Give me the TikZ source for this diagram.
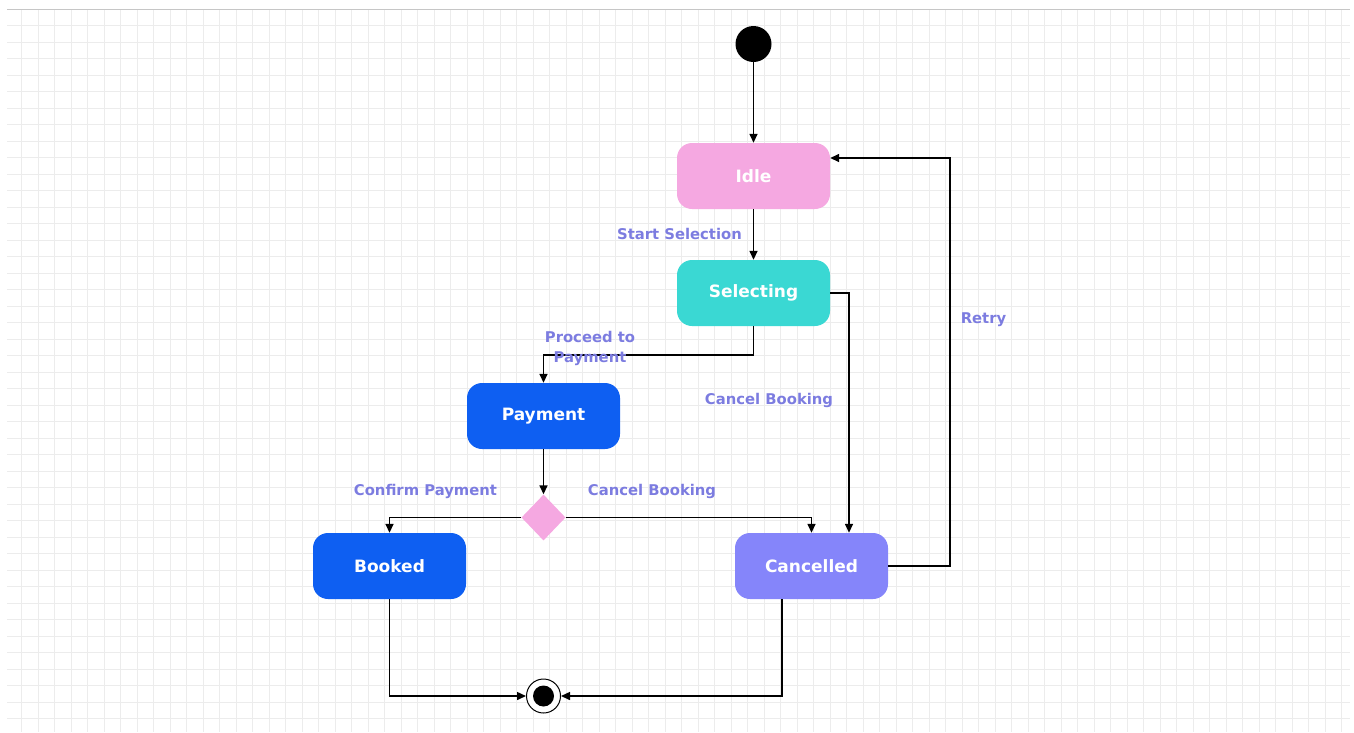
\documentclass[tikz,border=0pt]{standalone}
\usepackage{fontspec}
\setmainfont{DejaVu Sans}
\usetikzlibrary{arrows.meta,shapes.geometric}

\definecolor{idlepink}{HTML}{F5A8E1}
\definecolor{selcyan}{HTML}{3AD8D3}
\definecolor{payblue}{HTML}{0E5FF2}
\definecolor{cancelviolet}{HTML}{8585FA}
\definecolor{labelblue}{HTML}{7C7CE0}
\definecolor{gridgray}{HTML}{ECECEC}

\tikzset{
  state/.style={rectangle, rounded corners=15pt, minimum width=153pt,
    minimum height=66pt, inner sep=0pt, text=white,
    font=\fontsize{17}{20}\selectfont\bfseries},
  choice/.style={diamond, fill=idlepink, minimum width=44pt,
    minimum height=46pt, inner sep=0pt},
  flow/.style={draw=black, line width=1.5pt,
    -{Triangle[length=9pt,width=8pt]}},
  trans/.style={text=labelblue, align=center,
    font=\fontsize{14.8}{20}\selectfont\bfseries}
}

\begin{document}
\begin{tikzpicture}[x=1pt,y=-1pt]
  \useasboundingbox (0,0) rectangle (1354,732);

  % squared paper background
  \begin{scope}
    \clip (7,9) rectangle (1350,732);
    \foreach \k in {0,...,80} {
      \draw[gridgray, line width=0.9pt] (21.7+\k*16.5,9) -- (21.7+\k*16.5,732);
    }
    \foreach \k in {1,...,44} {
      \draw[gridgray, line width=0.9pt] (7,9+\k*16.5) -- (1350,9+\k*16.5);
    }
  \end{scope}
  \draw[gray!45, line width=1pt] (7,9) -- (1350,9);

  % states
  \node[circle, fill=black, minimum size=36pt, inner sep=0pt] (init) at (753.5,44) {};
  \node[state, fill=idlepink]    (idle) at (753.5,176) {Idle};
  \node[state, fill=selcyan]     (sel)  at (753.5,293) {Selecting};
  \node[state, fill=payblue]     (pay)  at (543.5,416) {Payment};
  \node[choice]                  (dec)  at (543.5,517.5) {};
  \node[state, fill=payblue]     (book) at (389.5,566) {Booked};
  \node[state, fill=cancelviolet] (can) at (811.5,566) {Cancelled};
  \node[circle, draw=black, line width=1pt, fill=white, minimum size=34pt,
        inner sep=0pt] (fin) at (543.5,696) {};
  \node[circle, fill=black, minimum size=21pt, inner sep=0pt] (fincore) at (fin) {};

  % bend point of the retry loop
  \coordinate (retry) at (950,158);

  % transitions
  \draw[flow] (init) -- (idle);
  \draw[flow] (idle) -- (sel);
  \draw[flow] (sel.south) -- ++(0,29) -| (pay.north);
  \draw[flow] (sel.east) -| ([xshift=37.5pt]can.north);
  \draw[flow] (pay) -- (dec);
  \draw[flow] (dec.west) -| (book.north);
  \draw[flow] (dec.east) -| (can.north);
  \draw[flow] (can.east) -| (retry) -- ([yshift=18pt]idle.east);
  \draw[flow] (book.south) |- (fin.west);
  \draw[flow] ([xshift=-29.5pt]can.south) |- (fin.east);

  % transition labels
  \node[trans] (lstart)   at (679.5,234) {Start Selection};
  \node[trans] (lproceed) at (590,348) {Proceed to\\Payment};
  \node[trans] (lcancel1) at (769,400) {Cancel Booking};
  \node[trans] (lretry)   at (983.5,320) {Retry};
  \node[trans] (lconfirm) at (425.5,491) {Confirm Payment};
  \node[trans] (lcancel2) at (652,491) {Cancel Booking};
\end{tikzpicture}
\end{document}
